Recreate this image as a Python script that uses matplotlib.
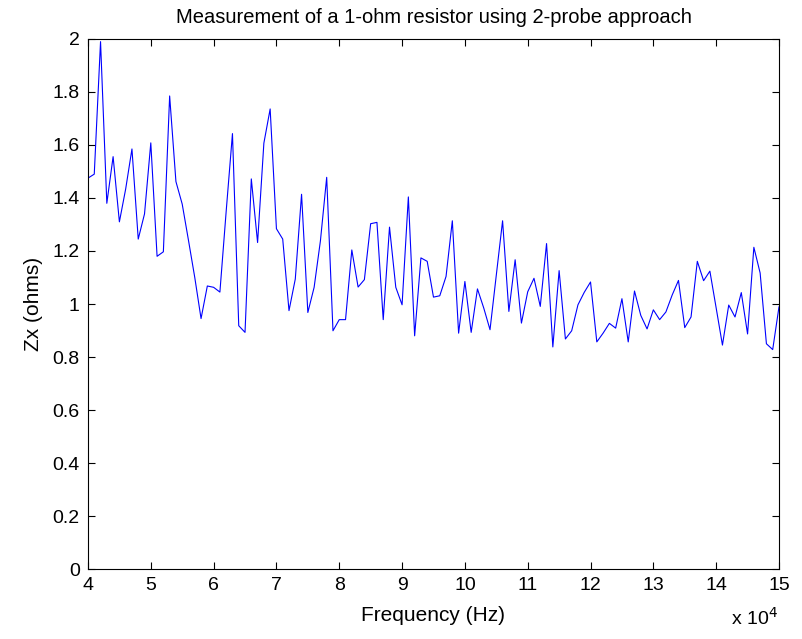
import numpy as np
import matplotlib
matplotlib.use("Agg")
import matplotlib.pyplot as plt
from matplotlib.ticker import FuncFormatter

# ----------------------------
# data
# ----------------------------
freq_hz = np.arange(40000, 151000, 1000)

zx_ohms = [
    1.475, 1.49, 1.99, 1.38, 1.556, 1.31, 1.434, 1.585, 1.245, 1.34,
    1.608, 1.18, 1.197, 1.785, 1.462, 1.377, 1.24, 1.10, 0.945, 1.068,
    1.063, 1.045, 1.35, 1.643, 0.918, 0.893, 1.472, 1.232, 1.607, 1.736,
    1.284, 1.245, 0.975, 1.094, 1.414, 0.968, 1.063, 1.238, 1.478, 0.899,
    0.941, 0.941, 1.204, 1.064, 1.092, 1.303, 1.308, 0.941, 1.29, 1.063,
    0.997, 1.404, 0.880, 1.174, 1.161, 1.026, 1.031, 1.104, 1.314, 0.890,
    1.085, 0.893, 1.057, 0.985, 0.903, 1.109, 1.314, 0.972, 1.167, 0.928,
    1.046, 1.097, 0.991, 1.228, 0.838, 1.126, 0.868, 0.899, 0.997, 1.044,
    1.083, 0.857, 0.890, 0.927, 0.909, 1.020, 0.857, 1.049, 0.957, 0.906,
    0.978, 0.941, 0.970, 1.034, 1.089, 0.911, 0.951, 1.161, 1.088, 1.124,
    0.985, 0.845, 0.996, 0.951, 1.043, 0.887, 1.214, 1.117, 0.850, 0.828,
    0.989,
]

x_ticks = np.arange(40000, 151000, 10000)
y_ticks = np.arange(0, 2.01, 0.2)

plt.rcParams["font.family"] = ["Liberation Sans", "DejaVu Sans"]

fig = plt.figure(figsize=(8.02, 6.39), dpi=100)
ax = fig.add_axes([0.1097, 0.1095, 0.8616, 0.8295])

ax.plot(freq_hz, zx_ohms, color=(0, 0, 1), linewidth=0.8)

ax.set_xlim(40000, 150000)
ax.set_ylim(0, 2)
ax.set_xticks(x_ticks)
ax.set_yticks(y_ticks)
ax.xaxis.set_major_formatter(FuncFormatter(lambda v, p: "%g" % (v / 1e4)))
ax.yaxis.set_major_formatter(FuncFormatter(lambda v, p: "%g" % round(v, 1)))

ax.tick_params(direction="in", top=True, right=True, length=5, width=0.8,
               labelsize=14, pad=6)
for s in ax.spines.values():
    s.set_linewidth(0.8)

# title / labels placed like the matlab figure
ax.text(0.5, 1.0396, "Measurement of a 1-ohm resistor using 2-probe approach",
        transform=ax.transAxes, ha="center", va="center", fontsize=14.5)

xl = ax.set_xlabel("Frequency (Hz)", fontsize=15)
xl.set_verticalalignment("center")
ax.xaxis.set_label_coords(0.5, -0.088)

yl = ax.set_ylabel("Zx (ohms)", fontsize=15)
yl.set_verticalalignment("center")
ax.yaxis.set_label_coords(-0.079, 0.5)

ax.text(0.9986, -0.1057, r"x 10$^{4}$", transform=ax.transAxes, ha="right",
        va="baseline", fontsize=14)

fig.savefig("out.png", dpi=100)
